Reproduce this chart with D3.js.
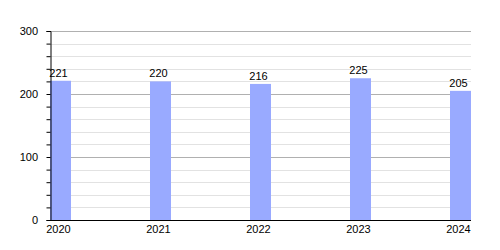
<!DOCTYPE html>
<html>
<head>
<meta charset="utf-8">
<script src="https://cdn.jsdelivr.net/npm/d3@7"></script>
<style>
  body { margin: 0; background: #fff; }
  text { font-family: "Liberation Sans", Arial, sans-serif; font-size: 11px; fill: #000; }
</style>
</head>
<body>
<div class="chart"></div>
<script>
var width = 500, height = 250;

var years = ['2020', '2021', '2022', '2023', '2024'];
var values = [221, 220, 216, 225, 205];
var yTicks = [0, 100, 200, 300];

var svg = d3.select('.chart')
	.append('svg')
	.attr('width', width)
	.attr('height', height);

var x = d3.scaleBand()
	.domain(years)
	.range([50, 471])
	.paddingInner(0.79)
	.paddingOuter(0)
	.align(0);

var y = d3.scaleLinear()
	.domain([0, 300])
	.range([220, 31]);

var minor = d3.range(0, 301, 20);

// grid lines
svg.append('g')
	.selectAll('line')
	.data(minor)
	.enter().append('line')
	.attr('x1', 50)
	.attr('x2', 471)
	.attr('y1', function(d) { return Math.round(y(d)) + 0.5 })
	.attr('y2', function(d) { return Math.round(y(d)) + 0.5 })
	.attr('stroke', '#e2e2e2')
	.attr('stroke-width', 1);

svg.append('g')
	.selectAll('line')
	.data(yTicks.slice(1))
	.enter().append('line')
	.attr('x1', 50)
	.attr('x2', 471)
	.attr('y1', function(d) { return Math.round(y(d)) + 0.5 })
	.attr('y2', function(d) { return Math.round(y(d)) + 0.5 })
	.attr('stroke', '#b0b0b0')
	.attr('stroke-width', 1);

// bars
svg.append('g')
	.selectAll('rect')
	.data(values)
	.enter().append('rect')
	.attr('x', function(d, i) { return x(years[i]) })
	.attr('y', function(d) { return y(d) })
	.attr('width', x.bandwidth())
	.attr('height', function(d) { return y(0) - y(d) })
	.attr('fill', 'rgb(153, 170, 255)');

// value labels
svg.append('g')
	.selectAll('text')
	.data(values)
	.enter().append('text')
	.attr('x', function(d, i) { return x(years[i]) + x.bandwidth() / 2 - 2 })
	.attr('y', function(d) { return y(d) - 4 })
	.attr('text-anchor', 'middle')
	.text(function(d) { return d });

// y axis
var yAxis = svg.append('g')
	.attr('transform', 'translate(50.5,0)')
	.call(d3.axisLeft(y).tickValues(minor).tickSize(4).tickFormat(''));
yAxis.select('.domain').attr('stroke', '#000');
yAxis.selectAll('.tick line').attr('stroke', '#000');

svg.append('g')
	.selectAll('text')
	.data(yTicks)
	.enter().append('text')
	.attr('x', 38)
	.attr('y', function(d) { return y(d) + 4 })
	.attr('text-anchor', 'end')
	.text(function(d) { return d });

// x axis
svg.append('line')
	.attr('x1', 50)
	.attr('x2', 471)
	.attr('y1', 220.5)
	.attr('y2', 220.5)
	.attr('stroke', '#000');

svg.append('g')
	.selectAll('text')
	.data(years)
	.enter().append('text')
	.attr('x', function(d) { return x(d) + x.bandwidth() / 2 - 2 })
	.attr('y', 233)
	.attr('text-anchor', 'middle')
	.text(function(d) { return d });
</script>
</body>
</html>
